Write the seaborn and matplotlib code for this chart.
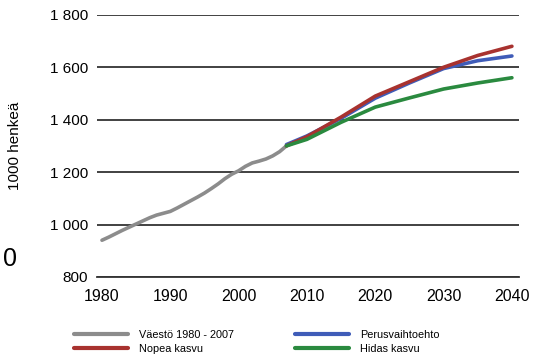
import pandas as pd
import seaborn as sns
import matplotlib.pyplot as plt
import numpy as np

hist_years = list(range(1980, 2008))
hist_vals = [940, 952, 965, 978, 990, 1002, 1014, 1026, 1036, 1043,
             1050, 1063, 1077, 1091, 1105, 1120, 1137, 1155, 1175, 1192,
             1205, 1222, 1235, 1242, 1250, 1262, 1278, 1300]

proj_years = [2007, 2010, 2015, 2020, 2025, 2030, 2035, 2040]
nopea = [1300, 1335, 1410, 1490, 1545, 1600, 1645, 1680]
perus = [1305, 1338, 1405, 1482, 1540, 1595, 1625, 1643]
hidas = [1300, 1325, 1390, 1448, 1483, 1517, 1540, 1560]

series = ['Väestö 1980 - 2007', 'Nopea kasvu', 'Perusvaihtoehto', 'Hidas kasvu']
colors = ['#8c8c8c', '#a8322f', '#3f5cb8', '#2a8a3f']

data = pd.concat([
    pd.DataFrame({'year': hist_years, 'val': hist_vals, 'sarja': series[0]}),
    pd.DataFrame({'year': proj_years, 'val': perus, 'sarja': series[2]}),
    pd.DataFrame({'year': proj_years, 'val': nopea, 'sarja': series[1]}),
    pd.DataFrame({'year': proj_years, 'val': hidas, 'sarja': series[3]}),
])

sns.set_style("white", {'text.color': 'black', 'axes.labelcolor': 'black',
                        'xtick.color': 'black', 'ytick.color': 'black'})
plt.rcParams['font.family'] = ['Liberation Sans', 'DejaVu Sans']

fig = plt.figure(figsize=(5.37, 3.62), dpi=100)
ax = fig.add_axes([0.181, 0.235, 0.785, 0.724])

sns.lineplot(x='year', y='val', hue='sarja', data=data,
             palette=dict(zip(series, colors)), linewidth=2.6, ax=ax,
             legend=False, clip_on=False)

ax.set_xlim(1979.3, 2041)
ax.set_ylim(800, 1800)
ax.set_yticks(np.arange(800, 1801, 200))
ax.set_yticklabels([f'{v:,}'.replace(',', ' ') for v in np.arange(800, 1801, 200)], fontsize=11)
ax.set_xticks(np.arange(1980, 2041, 10))
ax.set_xticklabels([str(v) for v in np.arange(1980, 2041, 10)], fontsize=11.5)
ax.grid(axis='y', color='#333333', linewidth=1.3)
ax.set_axisbelow(True)
for s in ['top', 'right', 'left']:
    ax.spines[s].set_visible(False)
ax.spines['bottom'].set_color('#333333')
ax.spines['bottom'].set_linewidth(1.3)
ax.tick_params(axis='x', direction='out', length=6, width=1.3, color='#333333', pad=3)
ax.tick_params(axis='y', length=0, pad=6.5)
ax.set_xlabel('')
ax.set_ylabel('1000 henkeä', fontsize=11)
ax.yaxis.set_label_coords(-0.178, 0.5)

handles = [plt.Line2D([], [], color=c, linewidth=3) for c in colors]
fig.legend(handles, series, ncol=2, loc='lower left', bbox_to_anchor=(0.12, -0.005),
           frameon=False, fontsize=7.8, handlelength=5.0, columnspacing=5.6,
           labelspacing=0.35, handletextpad=1.0)

fig.text(0.005, 0.285, '0', fontsize=18, va='center')

plt.savefig('out.png', dpi=100)
